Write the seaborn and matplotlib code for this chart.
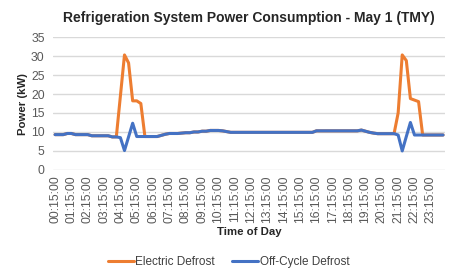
import matplotlib
matplotlib.use("Agg")
import matplotlib.pyplot as plt
import numpy as np
import pandas as pd
import seaborn as sns

# 15-minute time steps, 00:15 ... 24:00
times = [f"{(m // 60) % 24:02d}:{m % 60:02d}:00" for m in range(15, 24 * 60 + 1, 15)]

off_cycle = [
    9.3, 9.3, 9.3, 9.6, 9.6, 9.3, 9.3, 9.3, 9.3, 9.0, 9.0, 9.0, 9.0, 9.0, 8.7, 8.7,
    8.5, 5.1, 8.7, 12.3, 8.8, 8.8, 8.8, 8.8, 8.8, 8.8, 9.1, 9.4, 9.6, 9.6, 9.6, 9.7,
    9.8, 9.8, 10.0, 10.0, 10.2, 10.2, 10.4, 10.4, 10.4, 10.3, 10.1, 9.9, 9.9, 9.9, 9.9, 9.9,
    9.9, 9.9, 9.9, 9.9, 9.9, 9.9, 9.9, 9.9, 9.9, 9.9, 9.9, 9.9, 9.9, 9.9, 9.9, 9.9,
    10.3, 10.3, 10.3, 10.3, 10.3, 10.3, 10.3, 10.3, 10.3, 10.3, 10.3, 10.5, 10.2, 9.9, 9.7, 9.55,
    9.55, 9.55, 9.55, 9.55, 9.2, 5.0, 8.8, 12.5, 9.2, 9.2, 9.2, 9.2, 9.2, 9.2, 9.2, 9.2,
]

electric = [
    9.3, 9.3, 9.3, 9.6, 9.6, 9.3, 9.3, 9.3, 9.3, 9.0, 9.0, 9.0, 9.0, 9.0, 8.7, 8.7,
    19.5, 30.3, 28.2, 18.2, 18.2, 17.5, 8.8, 8.8, 8.8, 8.8, 9.1, 9.4, 9.6, 9.6, 9.6, 9.7,
    9.8, 9.8, 10.0, 10.0, 10.2, 10.2, 10.4, 10.4, 10.4, 10.3, 10.1, 9.9, 9.9, 9.9, 9.9, 9.9,
    9.9, 9.9, 9.9, 9.9, 9.9, 9.9, 9.9, 9.9, 9.9, 9.9, 9.9, 9.9, 9.9, 9.9, 9.9, 9.9,
    10.3, 10.3, 10.3, 10.3, 10.3, 10.3, 10.3, 10.3, 10.3, 10.3, 10.3, 10.5, 10.2, 9.9, 9.7, 9.55,
    9.55, 9.55, 9.55, 9.55, 15.0, 30.3, 28.8, 18.8, 18.4, 18.0, 9.2, 9.2, 9.2, 9.2, 9.2, 9.2,
]

series_names = ["Electric Defrost", "Off-Cycle Defrost"]
colors = ["#ED7D31", "#4472C4"]

df = pd.DataFrame({
    "step": list(range(len(times))) * 2,
    "power": electric + off_cycle,
    "series": [series_names[0]] * len(times) + [series_names[1]] * len(times),
})

sns.set_theme(style="white")
plt.rcParams["font.family"] = ["Liberation Sans", "DejaVu Sans"]

fig, ax = plt.subplots(figsize=(4.57, 2.79), dpi=100)
fig.subplots_adjust(left=0.116, right=0.974, top=0.867, bottom=0.391)

sns.lineplot(data=df, x="step", y="power", hue="series", palette=colors,
             linewidth=2.2, ax=ax, legend=False)

ax.set_xlim(-0.5, len(times) - 0.5)
ax.set_ylim(0, 35)
ax.set_yticks(range(0, 36, 5))
ax.set_xticks(range(0, len(times), 4))
ax.set_xticklabels(times[::4], rotation=90, fontsize=8.8, color="#595959")
ax.tick_params(axis="y", labelsize=8.8, labelcolor="#595959", length=0, pad=6)
ax.tick_params(axis="x", length=0, pad=4)
ax.grid(axis="y", color="#d9d9d9", linewidth=1)
ax.set_axisbelow(True)
for s in ax.spines.values():
    s.set_visible(False)

ax.set_title("Refrigeration System Power Consumption - May 1 (TMY)",
             fontsize=10, fontweight="bold", color="#262626", pad=11)
ax.set_xlabel("Time of Day", fontsize=8.2, fontweight="bold", color="#262626",
              labelpad=3)
ax.set_ylabel("Power (kW)", fontsize=8.2, fontweight="bold", color="#262626",
              labelpad=2)

handles = [plt.Line2D([], [], color=c, linewidth=2.2) for c in colors]
fig.legend(handles, series_names, loc="center", bbox_to_anchor=(0.5, 0.061),
           ncol=2, frameon=False, fontsize=8.5, handlelength=2.2,
           handletextpad=0.1, columnspacing=1.5, labelcolor="#404040")

fig.savefig("out.png", dpi=100)
